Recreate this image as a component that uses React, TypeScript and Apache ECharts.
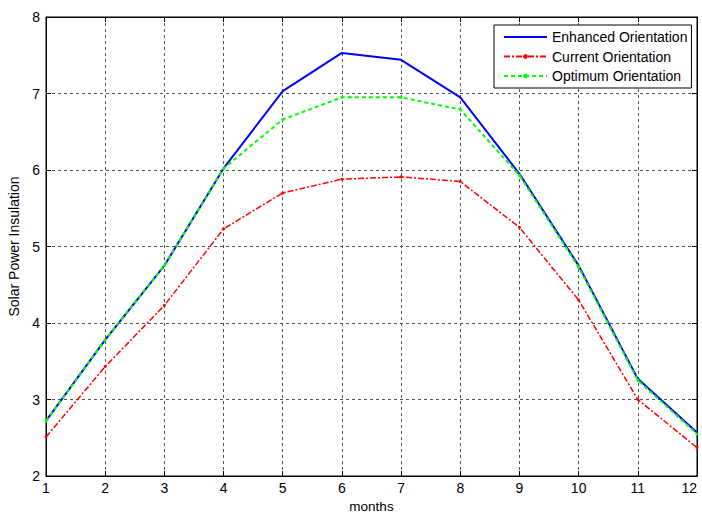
import React, { useEffect, useRef } from "react";
import * as echarts from "echarts";

const months = [1, 2, 3, 4, 5, 6, 7, 8, 9, 10, 11, 12];
const enhanced = [2.72, 3.78, 4.75, 6.02, 7.03, 7.53, 7.44, 6.95, 5.95, 4.75, 3.27, 2.57];
const current = [2.51, 3.43, 4.23, 5.23, 5.7, 5.88, 5.91, 5.85, 5.25, 4.3, 3.0, 2.37];
const optimum = [2.72, 3.78, 4.75, 6.02, 6.66, 6.95, 6.95, 6.79, 5.93, 4.73, 3.25, 2.55];

const font = "Liberation Sans, Arial, sans-serif";

export default function App() {
  const ref = useRef<HTMLDivElement>(null);
  useEffect(() => {
    const chart = echarts.init(ref.current!, null, { renderer: "svg" });
    const pair = (arr: number[]) => months.map((m, i) => [m, arr[i]]);
    const gridLine = { show: true, lineStyle: { color: "#555", type: [3, 3] as any, width: 1 } };
    chart.setOption({
      animation: false,
      backgroundColor: "#fff",
      grid: {
        left: 46,
        right: 5,
        top: 17,
        bottom: 38,
        show: true,
        borderColor: "#000",
        borderWidth: 1,
        containLabel: false,
        outerBoundsMode: "none",
      },
      legend: {
        orient: "vertical",
        left: 494,
        top: 25,
        padding: [4, 4, 4, 9],
        itemGap: 3.5,
        itemWidth: 43,
        itemHeight: 6,
        backgroundColor: "#fff",
        borderColor: "#000",
        borderWidth: 1,
        borderRadius: 0,
        textStyle: { fontFamily: font, fontSize: 14, lineHeight: 16, color: "#000" },
        data: [
          { name: "Enhanced Orientation", itemStyle: { opacity: 0 } },
          { name: "Current Orientation" },
          { name: "Optimum Orientation" },
        ],
      },
      xAxis: [
        {
          type: "value",
          min: 1,
          max: 12,
          interval: 1,
          name: "months",
          nameLocation: "middle",
          nameGap: 22,
          nameTextStyle: { fontFamily: font, fontSize: 13.5, color: "#000" },
          axisLine: { show: true, onZero: false, lineStyle: { color: "#000" } },
          axisTick: { show: true, inside: true, length: 5, lineStyle: { color: "#000" } },
          axisLabel: { fontFamily: font, fontSize: 14, color: "#000", margin: 5, alignMaxLabel: "right" },
          splitLine: gridLine,
        },
        {
          type: "value",
          position: "top",
          min: 1,
          max: 12,
          interval: 1,
          axisLine: { show: true, lineStyle: { color: "#000" } },
          axisTick: { show: true, inside: true, length: 5, lineStyle: { color: "#000" } },
          axisLabel: { show: false },
          splitLine: { show: false },
        },
      ],
      yAxis: [
        {
          type: "value",
          min: 2,
          max: 8,
          interval: 1,
          name: "Solar Power Insulation",
          nameLocation: "middle",
          nameGap: 23,
          nameTextStyle: { fontFamily: font, fontSize: 14, color: "#000" },
          axisLine: { show: true, onZero: false, lineStyle: { color: "#000" } },
          axisTick: { show: true, inside: true, length: 5, lineStyle: { color: "#000" } },
          axisLabel: { fontFamily: font, fontSize: 14, color: "#000", margin: 6 },
          splitLine: gridLine,
        },
        {
          type: "value",
          position: "right",
          min: 2,
          max: 8,
          interval: 1,
          axisLine: { show: true, lineStyle: { color: "#000" } },
          axisTick: { show: true, inside: true, length: 5, lineStyle: { color: "#000" } },
          axisLabel: { show: false },
          splitLine: { show: false },
        },
      ],
      series: [
        {
          name: "Enhanced Orientation",
          type: "line",
          data: pair(enhanced),
          symbol: "none",
          color: "#0000ff",
          lineStyle: { color: "#0000ff", width: 2 },
          z: 4,
        },
        {
          name: "Current Orientation",
          type: "line",
          data: pair(current),
          symbol: "circle",
          symbolSize: 3,
          color: "#ff0000",
          itemStyle: { color: "#ff0000" },
          lineStyle: { color: "#ff0000", width: 1.5, type: [6, 2, 2, 2] },
          z: 3,
        },
        {
          name: "Optimum Orientation",
          type: "line",
          data: pair(optimum),
          symbol: "circle",
          symbolSize: 3,
          color: "#00ff00",
          itemStyle: { color: "#00ff00" },
          lineStyle: { color: "#00ff00", width: 2, type: [4, 3] },
          z: 5,
        },
      ],
    });
    return () => chart.dispose();
  }, []);
  return <div ref={ref} style={{ width: 702, height: 514, position: "absolute", left: 0, top: 0 }} />;
}
